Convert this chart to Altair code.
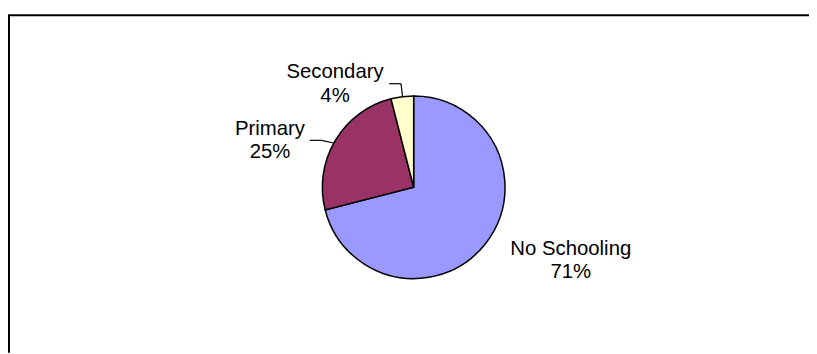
import altair as alt
import pandas as pd

# ---- data ----
categories = ["No Schooling", "Primary", "Secondary"]
percents = [71, 25, 4]
colors = ["#9999FF", "#993366", "#FFFFCC"]

df = pd.DataFrame({
    "category": categories,
    "value": percents,
    "idx": list(range(len(categories))),
    "label": [f"{p}%" for p in percents],
})

# ---- layout (view coordinates) ----
W, H = 806, 340
CX, CY, R = 407.7, 173.3, 92
FONT = "Liberation Sans"
FS = 20.5
label_pos = {
    "No Schooling": (566, 242, 265),
    "Primary": (263, 120.5, 143.5),
    "Secondary": (328.5, 63, 87),
}
one = pd.DataFrame({"a": [0]})


def seg(x1, y1, x2, y2, w=1.2):
    return alt.Chart(one).mark_rule(color="black", strokeWidth=w).encode(
        x=alt.value(x1), y=alt.value(y1), x2=alt.value(x2), y2=alt.value(y2)
    )


pie = alt.Chart(df).mark_arc(outerRadius=R, stroke="black", strokeWidth=1.5).encode(
    theta=alt.Theta("value:Q", stack=True),
    color=alt.Color("category:N",
                    scale=alt.Scale(domain=categories, range=colors),
                    legend=None),
    order=alt.Order("idx:Q"),
    x=alt.value(CX),
    y=alt.value(CY),
)

layers = [pie]
for cat in categories:
    lx, ly1, ly2 = label_pos[cat]
    base = alt.Chart(df).transform_filter(alt.datum.category == cat)
    layers.append(base.mark_text(font=FONT, fontSize=FS, color="black",
                                 align="center", baseline="alphabetic").encode(
        x=alt.value(lx), y=alt.value(ly1), text="category:N"))
    layers.append(base.mark_text(font=FONT, fontSize=FS, color="black",
                                 align="center", baseline="alphabetic").encode(
        x=alt.value(lx), y=alt.value(ly2), text="label:N"))

# leader lines
layers += [
    seg(383, 69, 395, 69), seg(395, 69, 396.5, 82),
    seg(303, 126, 315, 126), seg(315, 126, 328, 129),
]

# frame (top and left edges)
layers += [
    seg(-1, 0, W + 1, 0, 2),
    seg(0, 0, 0, H, 2),
]

chart = alt.layer(*layers).properties(
    width=W, height=H,
    padding={"left": 1, "top": 6, "right": 0, "bottom": 0},
    autosize=alt.AutoSizeParams(type="none"),
).configure_view(stroke=None)

chart.save("out.html", embed_options={"renderer": "svg", "actions": False})
